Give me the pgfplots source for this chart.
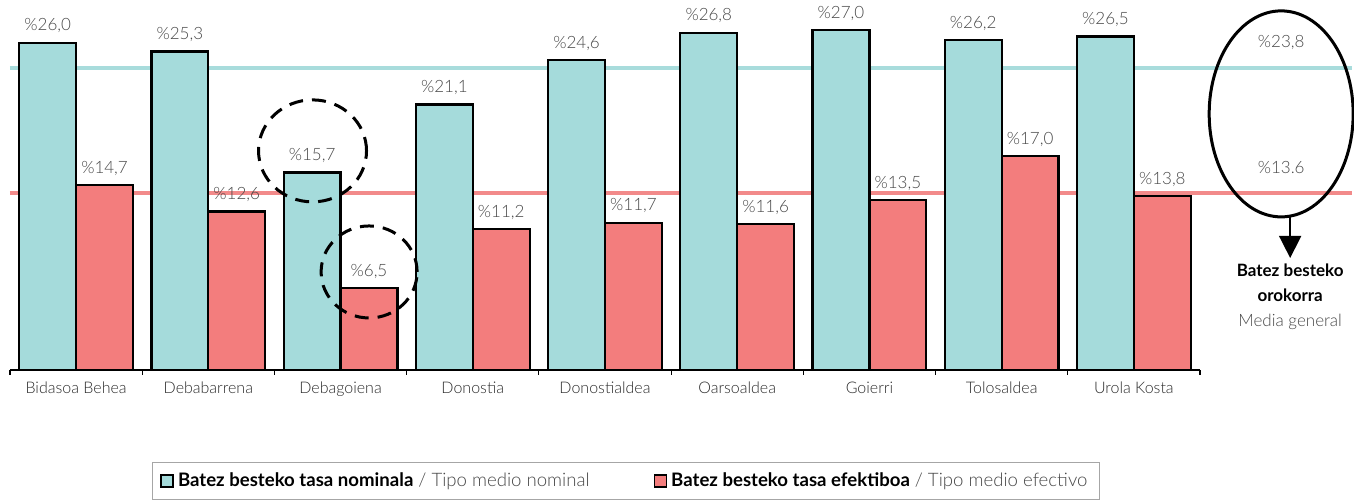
\documentclass[border=0pt]{standalone}
\usepackage{pgfplots}
\pgfplotsset{compat=1.18}
\usepackage{fontspec}
\setmainfont{Lato}[UprightFont={* Light}, BoldFont={* Bold}]
\usetikzlibrary{arrows.meta}
\definecolor{cyanbar}{HTML}{A5DBDB}
\definecolor{redbar}{HTML}{F37D7D}
\definecolor{cyanline}{HTML}{A8DCDC}
\definecolor{redline}{HTML}{F28A8A}
\definecolor{lbl}{HTML}{484848}
\definecolor{cat}{HTML}{2A2A2A}
\begin{document}
\begin{tikzpicture}
\path[use as bounding box] (-5pt,-65.5pt) rectangle (672pt,185pt);
\begin{axis}[
  scale only axis, width=595pt, height=185pt,
  xmin=-0.5, xmax=8.5, ymin=0, ymax=29.4,
  axis x line*=bottom, axis y line=none,
  axis line style={black, line width=0.6pt, -},
  xtick={0,...,8},
  xticklabels={Bidasoa Behea,Debabarrena,Debagoiena,Donostia,Donostialdea,Oarsoaldea,Goierri,Tolosaldea,Urola Kosta},
  major tick length=0pt,
  extra x ticks={-0.5,0.5,...,8.5},
  extra x tick labels={},
  extra x tick style={major tick length=2.5pt, tick align=outside, tick style={black, line width=0.6pt}},
  tick label style={font=\fontsize{8}{9}\selectfont, color=cat},
  x tick label style={yshift=-2.5pt},
  clip=false,
  enlargelimits=false,
  barlabel/.style={nodes near coords={\%\pgfmathprintnumber[fixed,fixed zerofill,precision=1,use comma,assume math mode=true]{\pgfplotspointmeta}},
    every node near coord/.append style={font=\fontsize{8.5}{9}\selectfont, color=lbl, anchor=south, yshift=1pt}},
  legend style={at={(0.5176,-0.30)}, anchor=center, legend columns=2, draw=gray!70, line width=0.5pt,
    font=\fontsize{9.3}{11}\selectfont, inner xsep=4pt, inner ysep=3pt,
    /tikz/every even column/.append style={column sep=30pt}},
  legend cell align=left,
  legend image code/.code={\draw[#1, draw=black, line width=0.8pt] (0pt,-3pt) rectangle (6pt,3pt);},
]
\addplot[cyanline, line width=2pt, forget plot] coordinates {(-0.5,24.0) (9.65,24.0)};
\addplot[redline, line width=2pt, forget plot] coordinates {(-0.5,14.1) (9.65,14.1)};
\addplot[ybar, bar width=0.43, bar shift=0pt, fill=cyanbar, draw=black, line width=1.1pt, barlabel] coordinates {
  (-0.215,26.0) (0.785,25.3) (1.785,15.7) (2.785,21.1) (3.785,24.6) (4.785,26.8) (5.785,27.0) (6.785,26.2) (7.785,26.5)};
\addlegendentry{\textbf{Batez besteko tasa nominala} {\color{lbl}/ Tipo medio nominal}}
\addplot[ybar, bar width=0.43, bar shift=0pt, fill=redbar, draw=black, line width=1.1pt, barlabel] coordinates {
  (0.215,14.7) (1.215,12.6) (2.215,6.5) (3.215,11.2) (4.215,11.7) (5.215,11.6) (6.215,13.5) (7.215,17.0) (8.215,13.8)};
\addlegendentry{\textbf{Batez besteko tasa efektiboa} {\color{lbl}/ Tipo medio efectivo}}
% annotations
\draw[black, line width=1.5pt, dash pattern=on 7pt off 4.5pt] (axis cs:1.788,17.41) ellipse [x radius=27pt, y radius=25.5pt];
\draw[black, line width=1.5pt, dash pattern=on 7pt off 4.5pt] (axis cs:2.216,7.79) ellipse [x radius=24pt, y radius=23pt];
\draw[black, line width=1.5pt] (axis cs:9.114,20.35) ellipse [x radius=36pt, y radius=51.5pt];
\node[font=\fontsize{8.5}{9}\selectfont, color=lbl] at (axis cs:9.114,26.0) {\%23,8};
\node[font=\fontsize{8.5}{9}\selectfont, color=lbl] at (axis cs:9.114,16.06) {\%13.6};
\draw[black, line width=0.8pt, -{Triangle[length=11pt, width=11pt]}] (axis cs:9.182,12.16) -- (axis cs:9.182,8.9);
\node[anchor=north, align=center, font=\fontsize{8.5}{12.5}\selectfont, inner sep=2pt] at (axis cs:9.182,8.75)
  {\textbf{Batez besteko}\\\textbf{orokorra}\\{\color{lbl}Media general}};
\end{axis}
\end{tikzpicture}
\end{document}
